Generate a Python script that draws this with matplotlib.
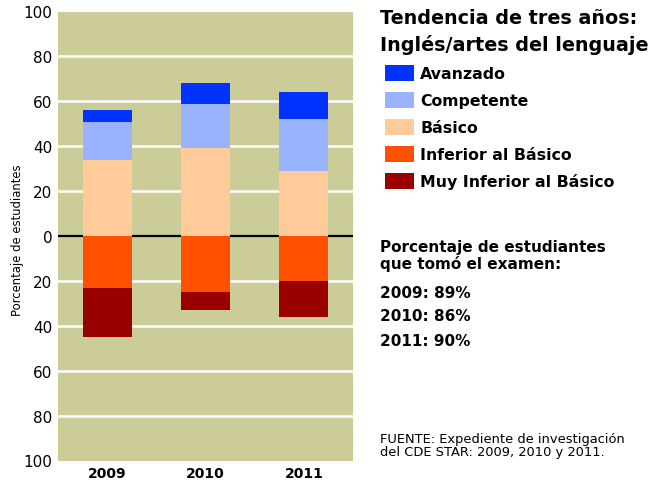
import matplotlib
matplotlib.use("Agg")
import matplotlib.pyplot as plt
import numpy as np

plt.rcParams['font.family'] = ['DejaVu Sans']

years = ['2009', '2010', '2011']
basico = [34, 39, 29]
competente = [17, 20, 23]
avanzado = [5, 9, 12]
inferior = [23, 25, 20]
muy_inferior = [22, 8, 16]
participacion = ['89%', '86%', '90%']

col_av = '#0033ff'
col_comp = '#99b3ff'
col_bas = '#ffcc99'
col_inf = '#ff5000'
col_muy = '#990000'
olive = '#cccc99'

fig = plt.figure(figsize=(6.6, 4.89), dpi=100)
ax = fig.add_axes([58/660, 27.5/489, 295/660, 449/489])
ax.set_facecolor(olive)

x = np.arange(len(years))
w = 0.5
bas = np.array(basico)
comp = np.array(competente)
inf = np.array(inferior)

# positive side
b_bas = ax.bar(x, bas, w, color=col_bas, zorder=3)
b_comp = ax.bar(x, comp, w, bottom=bas, color=col_comp, zorder=3)
b_av = ax.bar(x, avanzado, w, bottom=bas + comp, color=col_av, zorder=3)
# negative side
b_inf = ax.bar(x, -inf, w, color=col_inf, zorder=3)
b_muy = ax.bar(x, -np.array(muy_inferior), w, bottom=-inf, color=col_muy, zorder=3)

ax.set_xlim(-0.5, 2.5)
ax.set_ylim(-100, 100)
ticks = np.arange(-100, 101, 20)
ax.set_yticks(ticks)
ax.set_yticklabels([str(abs(t)) for t in ticks], fontsize=11)
ax.set_xticks(x)
ax.set_xticklabels(years, fontsize=10, fontweight='bold')
ax.tick_params(length=0, pad=4)
for t in ticks[1:-1]:
    if t == 0:
        ax.axhline(0, color='black', lw=1.6, zorder=2)
    else:
        ax.axhline(t, color='white', lw=1.8, zorder=1)
for s in ax.spines.values():
    s.set_visible(False)

fig.text(18/660, 1 - 240/489, 'Porcentaje de estudiantes', rotation=90,
         fontsize=8.4, ha='center', va='center')

# title and legend on the right
fig.text(380/660, 1 - 19/489, 'Tendencia de tres años:', fontsize=13.8,
         fontweight='bold', va='center', ha='left')
fig.text(380/660, 1 - 45/489, 'Inglés/artes del lenguaje', fontsize=13.8,
         fontweight='bold', va='center', ha='left')

handles = [b_av, b_comp, b_bas, b_inf, b_muy]
labels = ['Avanzado', 'Competente', 'Básico', 'Inferior al Básico',
          'Muy Inferior al Básico']
leg = fig.legend(handles, labels, loc='upper left',
                 bbox_to_anchor=(385/660, 1 - 66/489), frameon=False,
                 prop={'size': 11.3, 'weight': 'bold'},
                 handlelength=1.85, handleheight=1.15, labelspacing=0.7,
                 handletextpad=0.4, borderaxespad=0, borderpad=0)

fig.text(380/660, 1 - 248/489, 'Porcentaje de estudiantes', fontsize=11,
         fontweight='bold', va='center')
fig.text(380/660, 1 - 264/489, 'que tomó el examen:', fontsize=11,
         fontweight='bold', va='center')
ypos = [293, 317, 341]
for yr, p, yy in zip(years, participacion, ypos):
    fig.text(380/660, 1 - yy/489, f'{yr}: {p}', fontsize=11,
             fontweight='bold', va='center')

fig.text(380/660, 1 - 446/489,
         'FUENTE: Expediente de investigación\ndel CDE STAR: 2009, 2010 y 2011.',
         fontsize=9.4, va='center', linespacing=1.0)

fig.savefig('out.png', dpi=100)
